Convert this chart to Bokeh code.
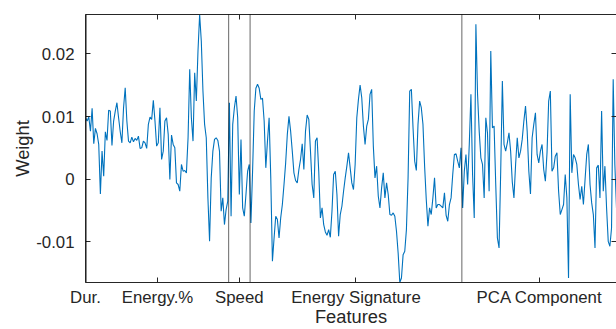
import numpy as np
from bokeh.plotting import figure
from bokeh.models import FixedTicker, Range1d, LinearAxis, Span, ColumnDataSource
from bokeh.embed import file_html
from bokeh.resources import INLINE

# Feature weights, in units of 1e-3, grouped by feature family
dur_w = [9.81]
energy_pct_w = [
    9.28, 9.92, 7.68, 11.31, 5.65, 8.11, 7.25, 5.55, -2.35,
    4.48, 0.48, 7.57, 6.19, 10.99, 10.88, 5.39, 9.28, 10.88, 12.21,
    9.81, 7.57, 5.81, 11.41, 14.61, 9.28, 6.08, 5.81, 6.72, 5.97,
    6.51, 6.19, 6.88, 4.91, 5.01, 6.08, 5.81, 4.91, 8.75, 9.92,
    9.55, 12.59, 9.28, 5.28, 5.81, 11.41, 3.15, 4.48, 9.28, 9.81,
    7.15, -0.05, 7.04, 5.55, 5.01, -0.59, -0.85, -1.92, 2.35, 1.28,
    1.39, 1.01, 6.61, 17.55, 9.81, 6.08, 17.01, 12.48, 20.48, 26.3,
    22.08, 14.08, 8.75, 6.61, -2.99, -9.92, 0.21, 4.48, 6.35, 6.61,
    6.19, 4.48, -5.12, -2.99, -7.25, -4.85, -3.52,
]
speed_w = [12.21, -5.92, 8.75, 11.41, 13.28, 9.81, -2.45, 6.35, -4.59, -5.92, -2.45, 1.28, 2.35]
signature_w = [
    -6.99, 1.28, 10.88, 14.51, 15.15, 14.51, 12.75, 12.91, 9.28, 1.81,
    6.08, 9.81, 0.21, -13.12, -9.39, -5.92, -6.45, -9.39, -6.19, -4.05,
    -0.85, 2.61, 7.15, 10.03, 7.68, 4.48, 1.01, -0.21, -0.59, 1.55,
    3.15, 5.65, 1.55, 7.68, 10.24, 9.55, 4.48, -0.85, -2.99, 6.08,
    6.61, 1.28, -6.19, -4.59, -7.25, -8.43, -8.96, -8.05, -9.28, -5.12,
    0.75, 1.28, -2.45, -9.12, -5.65, -4.32, -1.92, 0.21, 2.08, 4.21,
    1.81, -0.59, -1.65, 2.35, 9.81, 12.75, 15.04, 13.01, 8.48, 5.55,
    8.48, 9.55, 13.55, 14.35, 5.28, 0.21, 2.08, -2.72, -4.59, -1.39,
    1.01, -2.99, -0.59, -2.45, -5.65, -5.76, -5.39, -5.92, -8.32, -11.79,
    -16.5, -15.79, -12.05, -11.52, -8.05, 0.21, 14.08, 14.35, 8.21, 2.88,
    1.39, 8.75, 12.48, 11.41, 8.75, 2.08, -3.25, -7.52, -4.59, -5.65,
    -2.99, 0.21, -4.59, -4.05, -4.05, -4.32, -4.59, -2.19, -5.76, -6.72,
    -4.05, -2.99, 0.75, 3.95, 4.05, 2.88, 1.81, 5.01,
]
pca_w = [
    -4.59, 1.28, 3.95, -0.85, 5.55, 13.55, 0.75, -6.19, 24.75, 13.55, 7.68, 3.41,
    2.35, -2.99, 9.81, 7.41, -1.92, 20.48, 8.21, 8.48, -0.85, -9.39,
    -10.99, 1.28, 15.68, 5.55, 4.48, 5.81, 7.41, 4.48, -0.43, -2.99,
    2.35, 6.61, 3.41, 4.48, 6.35, 9.28, 11.68, 7.68, 1.28, -2.35,
    6.61, 8.75, 10.61, 3.95, 2.61, 4.48, 5.55, 1.55, -0.32, 4.21,
    12.48, 14.08, 1.28, 1.81, 3.68, 4.21, -1.92, -5.65, -4.85, -4.05,
    0.75, -2.99, -15.79, 13.55, 1.01, 3.95, 3.41, 2.35, -0.85, -3.25,
    -1.12, -4.05, -0.05, 3.95, 5.55, -0.85, -3.79, -5.65, -10.99, 1.81,
    2.24, -2.99, 10.88, -1.92, 2.08, -4.59, -9.92, -10.72, -7.79, 15.95,
    2.35, -4.59,
]

section_names = ["Dur.", "Energy.%", "Speed", "Energy Signature", "PCA Component"]
sections = [dur_w, energy_pct_w, speed_w, signature_w, pca_w]
y_tick_values = [-0.01, 0.0, 0.01, 0.02]
y_tick_labels = ["-0.01", "0", "0.01", "0.02"]

weights = np.concatenate([np.asarray(s, dtype=float) for s in sections]) * 1e-3
feature = np.arange(len(weights), dtype=float)
counts = np.array([len(s) for s in sections])
starts = np.concatenate([[0], np.cumsum(counts)[:-1]])
ends = starts + counts - 1
centers = [float(c) for c in (starts + ends) / 2.0]
boundaries = [float(b) - 0.5 for b in starts[1:]]

TXT = "#262626"
FONT = "Liberation Sans"

p = figure(width=616, height=329, output_backend="svg", toolbar_location=None,
           x_range=Range1d(feature[0], feature[-1]),
           y_range=Range1d(weights.min(), weights.max()),
           x_axis_location=None, y_axis_location=None,
           min_border_left=85, min_border_right=0, min_border_top=14, min_border_bottom=47)
p.outline_line_color = None
p.xgrid.visible = False
p.ygrid.visible = False
p.background_fill_color = "white"
p.border_fill_color = "white"

def style_axis(ax, show_labels):
    ax.axis_line_color = TXT
    ax.axis_line_width = 1
    ax.major_tick_line_color = TXT
    ax.major_tick_in = 5
    ax.major_tick_out = 0
    ax.minor_tick_line_color = None
    ax.major_label_text_font = FONT
    ax.major_label_text_color = TXT
    if show_labels:
        ax.major_label_text_font_size = "16.8px"
    else:
        ax.major_label_text_font_size = "0px"
        ax.major_label_standoff = 0

xb = LinearAxis(ticker=FixedTicker(ticks=centers),
                major_label_overrides={c: n for c, n in zip(centers, section_names)},
                axis_label="Features")
style_axis(xb, True)
xb.major_label_standoff = 5
xb.axis_label_standoff = -4
xb.axis_label_text_font = FONT
xb.axis_label_text_font_size = "18.3px"
xb.axis_label_text_font_style = "normal"
xb.axis_label_text_color = TXT
p.add_layout(xb, "below")

yl = LinearAxis(ticker=FixedTicker(ticks=y_tick_values),
                major_label_overrides={v: t for v, t in zip(y_tick_values, y_tick_labels)},
                axis_label="Weight")
style_axis(yl, True)
yl.major_label_standoff = 11
yl.axis_label_standoff = 0
yl.axis_label_text_font = FONT
yl.axis_label_text_font_size = "18.3px"
yl.axis_label_text_font_style = "normal"
yl.axis_label_text_color = TXT
p.add_layout(yl, "left")

xt = LinearAxis(ticker=FixedTicker(ticks=centers),
                major_label_overrides={c: "" for c in centers})
style_axis(xt, False)
p.add_layout(xt, "above")

yr = LinearAxis(ticker=FixedTicker(ticks=y_tick_values),
                major_label_overrides={v: "" for v in y_tick_values})
style_axis(yr, False)
yr.axis_line_color = None
p.add_layout(yr, "right")

for b in boundaries:
    p.add_layout(Span(location=b, dimension="height", line_color="black",
                      line_width=1.2, line_dash="1 1", line_alpha=1.0))

src = ColumnDataSource(dict(x=feature, y=weights))
p.line("x", "y", source=src, line_color="#0072BD", line_width=1.1)

open("out.html", "w").write(file_html(p, INLINE))
